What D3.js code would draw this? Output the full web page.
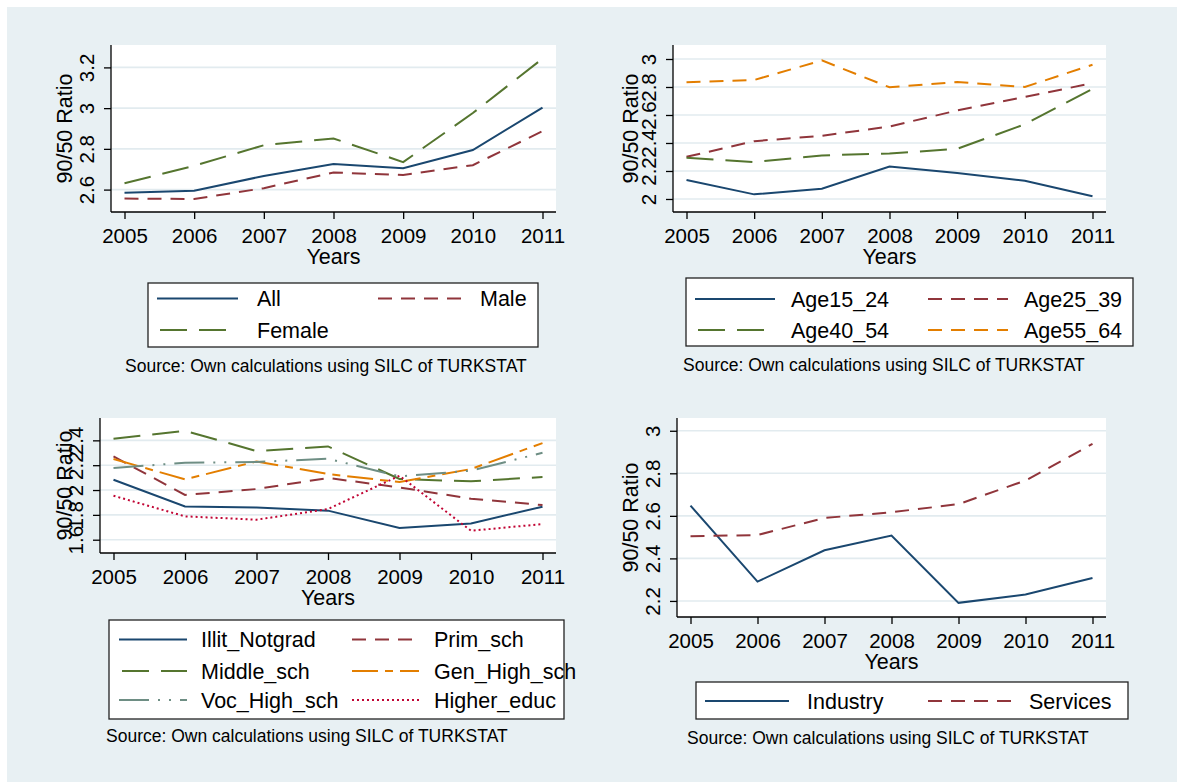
<!DOCTYPE html>
<html>
<head>
<meta charset="utf-8">
<script src="https://cdn.jsdelivr.net/npm/d3@7"></script>
<style>
  body { margin: 0; background: #fff; }
  svg { display: block; font-family: "Liberation Sans", Arial, sans-serif; }
</style>
</head>
<body>
<div id="chart"></div>
<script>
// -------------------- DATA --------------------
const years = [2005, 2006, 2007, 2008, 2009, 2010, 2011];

// panel 1 : gender
const allVals    = [2.585, 2.594, 2.667, 2.726, 2.705, 2.794, 3.003];
const maleVals   = [2.556, 2.554, 2.607, 2.684, 2.672, 2.720, 2.887];
const femaleVals = [2.631, 2.717, 2.818, 2.851, 2.735, 2.976, 3.243];
const ticks1 = [2.6, 2.8, 3, 3.2];

// panel 2 : age groups
const age15_24 = [2.135, 2.033, 2.073, 2.232, 2.185, 2.130, 2.019];
const age25_39 = [2.301, 2.413, 2.451, 2.518, 2.632, 2.729, 2.827];
const age40_54 = [2.294, 2.264, 2.311, 2.325, 2.358, 2.534, 2.786];
const age55_64 = [2.834, 2.850, 2.990, 2.798, 2.836, 2.800, 2.959];
const ticks2 = [2, 2.2, 2.4, 2.6, 2.8, 3];

// panel 3 : education
const illitNotgrad = [2.083, 1.868, 1.860, 1.834, 1.694, 1.731, 1.866];
const primSch      = [2.271, 1.960, 2.008, 2.097, 2.021, 1.930, 1.879];
const middleSch    = [2.413, 2.477, 2.314, 2.351, 2.089, 2.070, 2.105];
const genHighSch   = [2.250, 2.086, 2.230, 2.129, 2.064, 2.169, 2.378];
const vocHighSch   = [2.177, 2.220, 2.226, 2.252, 2.110, 2.156, 2.300];
const higherEduc   = [1.954, 1.788, 1.761, 1.847, 2.115, 1.672, 1.726];
const ticks3 = [1.6, 1.8, 2, 2.2, 2.4];

// panel 4 : sector
const industry = [2.648, 2.291, 2.438, 2.507, 2.191, 2.230, 2.308];
const services = [2.504, 2.510, 2.590, 2.617, 2.655, 2.766, 2.938];
const ticks4 = [2.2, 2.4, 2.6, 2.8, 3];

const sourceText = "Source: Own calculations using SILC of TURKSTAT";

// -------------------- STYLE --------------------
const navy = "#1a476f", maroon = "#90353b", green = "#55752f",
      orange = "#e37e00", teal = "#6e8e84", cranberry = "#c10534";
const DASH = "14,9", LONGDASH = "27,12", DASHDOT = "26,7,8,7",
      LONGDOT = "30,9,2,9,2,9", DOT = "2,3";

const panels = [
  {
    box: {x0: 111, x1: 556, y0: 45, y1: 212}, yDomain: [2.49, 3.31], yTicks: ticks1, titleOff: 39,
    series: [
      {name: "All", values: allVals, color: navy, dash: null},
      {name: "Male", values: maleVals, color: maroon, dash: DASH},
      {name: "Female", values: femaleVals, color: green, dash: LONGDASH}
    ],
    legend: {x0: 148, y0: 283, x1: 538, y1: 347, cols: [157, 378], keyLen: [81, 84], labOff: [100, 102], rows: [298.5, 330]},
    source: {x: 125, y: 372}
  },
  {
    box: {x0: 673, x1: 1106, y0: 45, y1: 212}, yDomain: [1.907, 3.1], yTicks: ticks2, titleOff: 35,
    series: [
      {name: "Age15_24", values: age15_24, color: navy, dash: null},
      {name: "Age25_39", values: age25_39, color: maroon, dash: DASH},
      {name: "Age40_54", values: age40_54, color: green, dash: LONGDASH},
      {name: "Age55_64", values: age55_64, color: orange, dash: DASH}
    ],
    legend: {x0: 686, y0: 278, x1: 1133, y1: 346, cols: [695, 928], keyLen: [80, 80], labOff: [96, 96], rows: [299, 330]},
    source: {x: 683, y: 371}
  },
  {
    box: {x0: 100, x1: 556, y0: 418, y1: 553}, yDomain: [1.493, 2.58], yTicks: ticks3, titleOff: 28,
    series: [
      {name: "Illit_Notgrad", values: illitNotgrad, color: navy, dash: null},
      {name: "Prim_sch", values: primSch, color: maroon, dash: DASH},
      {name: "Middle_sch", values: middleSch, color: green, dash: LONGDASH},
      {name: "Gen_High_sch", values: genHighSch, color: orange, dash: DASHDOT},
      {name: "Voc_High_sch", values: vocHighSch, color: teal, dash: LONGDOT},
      {name: "Higher_educ", values: higherEduc, color: cranberry, dash: DOT}
    ],
    legend: {x0: 109, y0: 620, x1: 564, y1: 719, cols: [119, 352], keyLen: [68, 67], labOff: [82, 82], rows: [639.5, 671, 700]},
    source: {x: 106, y: 742}
  },
  {
    box: {x0: 677, x1: 1106, y0: 418, y1: 617}, yDomain: [2.1245, 3.06], yTicks: ticks4, titleOff: 39,
    series: [
      {name: "Industry", values: industry, color: navy, dash: null},
      {name: "Services", values: services, color: maroon, dash: DASH}
    ],
    legend: {x0: 696, y0: 682, x1: 1128, y1: 719, cols: [705, 928], keyLen: [84, 84], labOff: [102, 101], rows: [701]},
    source: {x: 687, y: 744}
  }
];

// -------------------- DRAW --------------------
const width = 1177, height = 782;
const tickFont = 20.5, labelFont = 21.5, sourceFont = 17.5;

const svg = d3.select("#chart").append("svg")
  .attr("width", width).attr("height", height);

svg.append("rect").attr("width", width).attr("height", height).attr("fill", "#fff");
svg.append("rect").attr("x", 7).attr("y", 7)
  .attr("width", width - 7).attr("height", height - 7).attr("fill", "#e8f0f3");

for (let p of panels) {
  let b = p.box;
  let g = svg.append("g");

  let x = d3.scaleLinear().domain([2005, 2011]).range([b.x0 + 13.5, b.x1 - 13.5]);
  let y = d3.scaleLinear().domain(p.yDomain).range([b.y1, b.y0]);

  // plot region
  g.append("rect").attr("x", b.x0).attr("y", b.y0)
    .attr("width", b.x1 - b.x0).attr("height", b.y1 - b.y0).attr("fill", "#fff");

  // grid
  g.append("g").selectAll("line").data(p.yTicks).join("line")
    .attr("x1", b.x0).attr("x2", b.x1)
    .attr("y1", d => y(d)).attr("y2", d => y(d))
    .attr("stroke", "#e2ebef").attr("stroke-width", 1.6);

  // series
  let line = d3.line().x((d, i) => x(years[i])).y(d => y(d));
  for (let s of p.series) {
    g.append("path").datum(s.values)
      .attr("d", line)
      .attr("fill", "none")
      .attr("stroke", s.color)
      .attr("stroke-width", 2)
      .attr("stroke-dasharray", s.dash);
  }

  // x axis
  g.append("g")
    .attr("transform", `translate(0,${b.y1})`)
    .call(d3.axisBottom(x).tickValues(years).tickFormat(d3.format("d")).tickSize(7).tickPadding(9))
    .call(a => a.select(".domain").remove())
    .call(a => a.selectAll("line").attr("stroke", "#000").attr("stroke-width", 1.3))
    .call(a => a.selectAll("text").attr("font-size", tickFont).attr("font-family", null).attr("fill", "#000"));
  g.append("line").attr("x1", b.x0).attr("x2", b.x1).attr("y1", b.y1).attr("y2", b.y1)
    .attr("stroke", "#000").attr("stroke-width", 1.3);
  g.append("text")
    .attr("x", (b.x0 + b.x1) / 2).attr("y", b.y1 + 51.5)
    .attr("text-anchor", "middle").attr("font-size", labelFont)
    .text("Years");

  // y axis, rotated labels
  g.append("g")
    .attr("transform", `translate(${b.x0},0)`)
    .call(d3.axisLeft(y).tickValues(p.yTicks).tickFormat(d => String(d)).tickSize(7))
    .call(a => a.select(".domain").remove())
    .call(a => a.selectAll("line").attr("stroke", "#000").attr("stroke-width", 1.3))
    .call(a => a.selectAll("text")
      .attr("font-size", tickFont).attr("font-family", null).attr("fill", "#000")
      .attr("x", 0).attr("y", -17).attr("dy", null)
      .attr("text-anchor", "middle")
      .attr("transform", "rotate(-90)"));
  g.append("line").attr("x1", b.x0).attr("x2", b.x0).attr("y1", b.y0).attr("y2", b.y1)
    .attr("stroke", "#000").attr("stroke-width", 1.3);
  g.append("text")
    .attr("transform", `translate(${b.x0 - p.titleOff},${(b.y0 + b.y1) / 2}) rotate(-90)`)
    .attr("text-anchor", "middle").attr("font-size", labelFont)
    .text("90/50 Ratio");

  // legend
  let L = p.legend;
  g.append("rect").attr("x", L.x0).attr("y", L.y0)
    .attr("width", L.x1 - L.x0).attr("height", L.y1 - L.y0)
    .attr("fill", "#fff").attr("stroke", "#222").attr("stroke-width", 1.3);
  p.series.forEach((s, i) => {
    let c = i % 2, r = Math.floor(i / 2);
    let kx = L.cols[c], ky = L.rows[r];
    g.append("line")
      .attr("x1", kx).attr("x2", kx + L.keyLen[c])
      .attr("y1", ky).attr("y2", ky)
      .attr("stroke", s.color).attr("stroke-width", 2)
      .attr("stroke-dasharray", s.dash)
      .attr("stroke-dashoffset", s.dash === LONGDASH ? -3 : null); // avoid a stray dot at key end
    g.append("text")
      .attr("x", kx + L.labOff[c]).attr("y", ky + 7.5)
      .attr("font-size", labelFont)
      .text(s.name);
  });

  g.append("text")
    .attr("x", p.source.x).attr("y", p.source.y)
    .attr("font-size", sourceFont)
    .text(sourceText);
}
</script>
</body>
</html>
